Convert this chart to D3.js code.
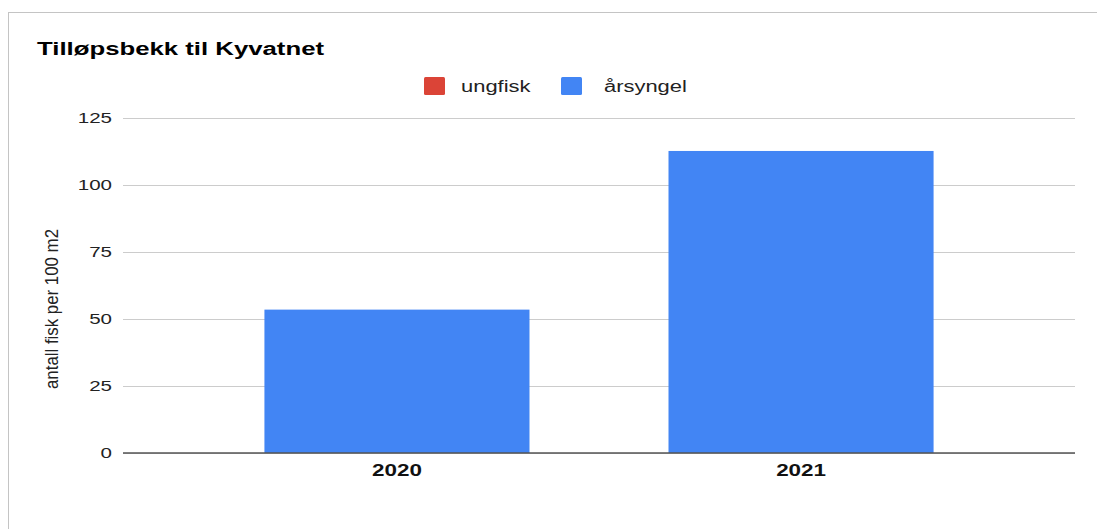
<!DOCTYPE html>
<html>
<head>
  <meta charset="utf-8">
  <title>Tilløpsbekk til Kyvatnet</title>
  <script type="text/javascript" src="https://cdn.jsdelivr.net/npm/d3@7"></script>
  <style type="text/css">
    body { margin: 0; background: #fff; }
    text { font-family: "Liberation Sans", Arial, sans-serif; }
  </style>
</head>
<body>
<script type="text/javascript">

// data
var years = ["2020", "2021"];
var seriesNames = ["ungfisk", "årsyngel"];
var ungfisk = [0, 0];
var arsyngel = [53.5, 112.7];
var yTicks = [0, 25, 50, 75, 100, 125];
var colors = ["#db4437", "#4285f4"];

var w = 1097;
var h = 529;

// the reference picture is stretched sideways, so the text is too
function stretch(sel, k) {
  sel.each(function() {
    var len = this.getComputedTextLength();
    d3.select(this)
      .attr("textLength", len * k)
      .attr("lengthAdjust", "spacingAndGlyphs");
  });
}

var svg = d3.select("body")
  .append("svg")
  .attr("width", w)
  .attr("height", h);

// frame
svg.append("rect")
  .attr("x", 8.5)
  .attr("y", 12.5)
  .attr("width", w)
  .attr("height", h)
  .attr("fill", "white")
  .attr("stroke", "#c4c4c4");

var plotL = 123, plotR = 1075, plotT = 118, plotB = 453;

var xScale = d3.scaleBand()
  .domain(years)
  .range([plotL, plotR])
  .paddingInner(0.344)
  .paddingOuter(0.35);

var yScale = d3.scaleLinear()
  .domain([0, 125])
  .range([plotB, plotT]);

// gridlines + y labels
var yAxis = svg.append("g")
  .attr("transform", "translate(" + plotL + ",0)")
  .call(d3.axisLeft(yScale).tickValues(yTicks).tickSize(-(plotR - plotL)).tickPadding(11));
yAxis.select(".domain").remove();
yAxis.selectAll(".tick line").attr("stroke", "#cccccc");
yAxis.selectAll(".tick text")
  .attr("font-size", "15px")
  .attr("fill", "#222")
  .style("font-family", "'Liberation Sans', Arial, sans-serif")
  .call(stretch, 1.37);

// stacked bars
var stackData = years.map(function(y, i) {
  return { year: y, "ungfisk": ungfisk[i], "årsyngel": arsyngel[i] };
});
var stacked = d3.stack().keys(seriesNames)(stackData);

svg.selectAll("g.series")
  .data(stacked)
  .enter()
  .append("g")
  .attr("class", "series")
  .attr("fill", function(d, i) { return colors[i]; })
  .selectAll("rect")
  .data(function(d) { return d; })
  .enter()
  .append("rect")
  .attr("x", function(d) { return xScale(d.data.year); })
  .attr("y", function(d) { return yScale(d[1]); })
  .attr("width", xScale.bandwidth())
  .attr("height", function(d) { return yScale(d[0]) - yScale(d[1]); });

// baseline
svg.append("line")
  .attr("x1", plotL)
  .attr("x2", plotR)
  .attr("y1", yScale(0))
  .attr("y2", yScale(0))
  .attr("stroke", "#555")
  .attr("stroke-width", 1.5);

// x labels
var xAxis = svg.append("g")
  .attr("transform", "translate(0," + plotB + ")")
  .call(d3.axisBottom(xScale).tickSize(0).tickPadding(12));
xAxis.select(".domain").remove();
xAxis.selectAll(".tick text")
  .attr("font-size", "16px")
  .attr("font-weight", "bold")
  .attr("fill", "#111")
  .style("font-family", "'Liberation Sans', Arial, sans-serif")
  .call(stretch, 1.4);

// title
svg.append("text")
  .attr("x", 37)
  .attr("y", 55)
  .attr("font-size", "18px")
  .attr("font-weight", "bold")
  .attr("fill", "#000")
  .text("Tilløpsbekk til Kyvatnet")
  .call(stretch, 1.43);

// y title (condensed along its length in the reference)
svg.append("text")
  .attr("transform", "translate(58,309) rotate(-90)")
  .attr("text-anchor", "middle")
  .attr("font-size", "18px")
  .attr("fill", "#222")
  .attr("textLength", 160)
  .attr("lengthAdjust", "spacingAndGlyphs")
  .text("antall fisk per 100 m2");

// legend
var legendX = [424, 561];
var legend = svg.selectAll("g.legend")
  .data(seriesNames)
  .enter()
  .append("g")
  .attr("class", "legend")
  .attr("transform", function(d, i) { return "translate(" + legendX[i] + ",77)"; });
legend.append("rect")
  .attr("width", 21)
  .attr("height", 18)
  .attr("rx", 1.5)
  .attr("fill", function(d, i) { return colors[i]; });
legend.append("text")
  .attr("x", function(d, i) { return i === 0 ? 37 : 43; })
  .attr("y", 15)
  .attr("font-size", "16px")
  .attr("fill", "#222")
  .text(function(d) { return d; })
  .call(stretch, 1.37);

</script>
</body>
</html>
